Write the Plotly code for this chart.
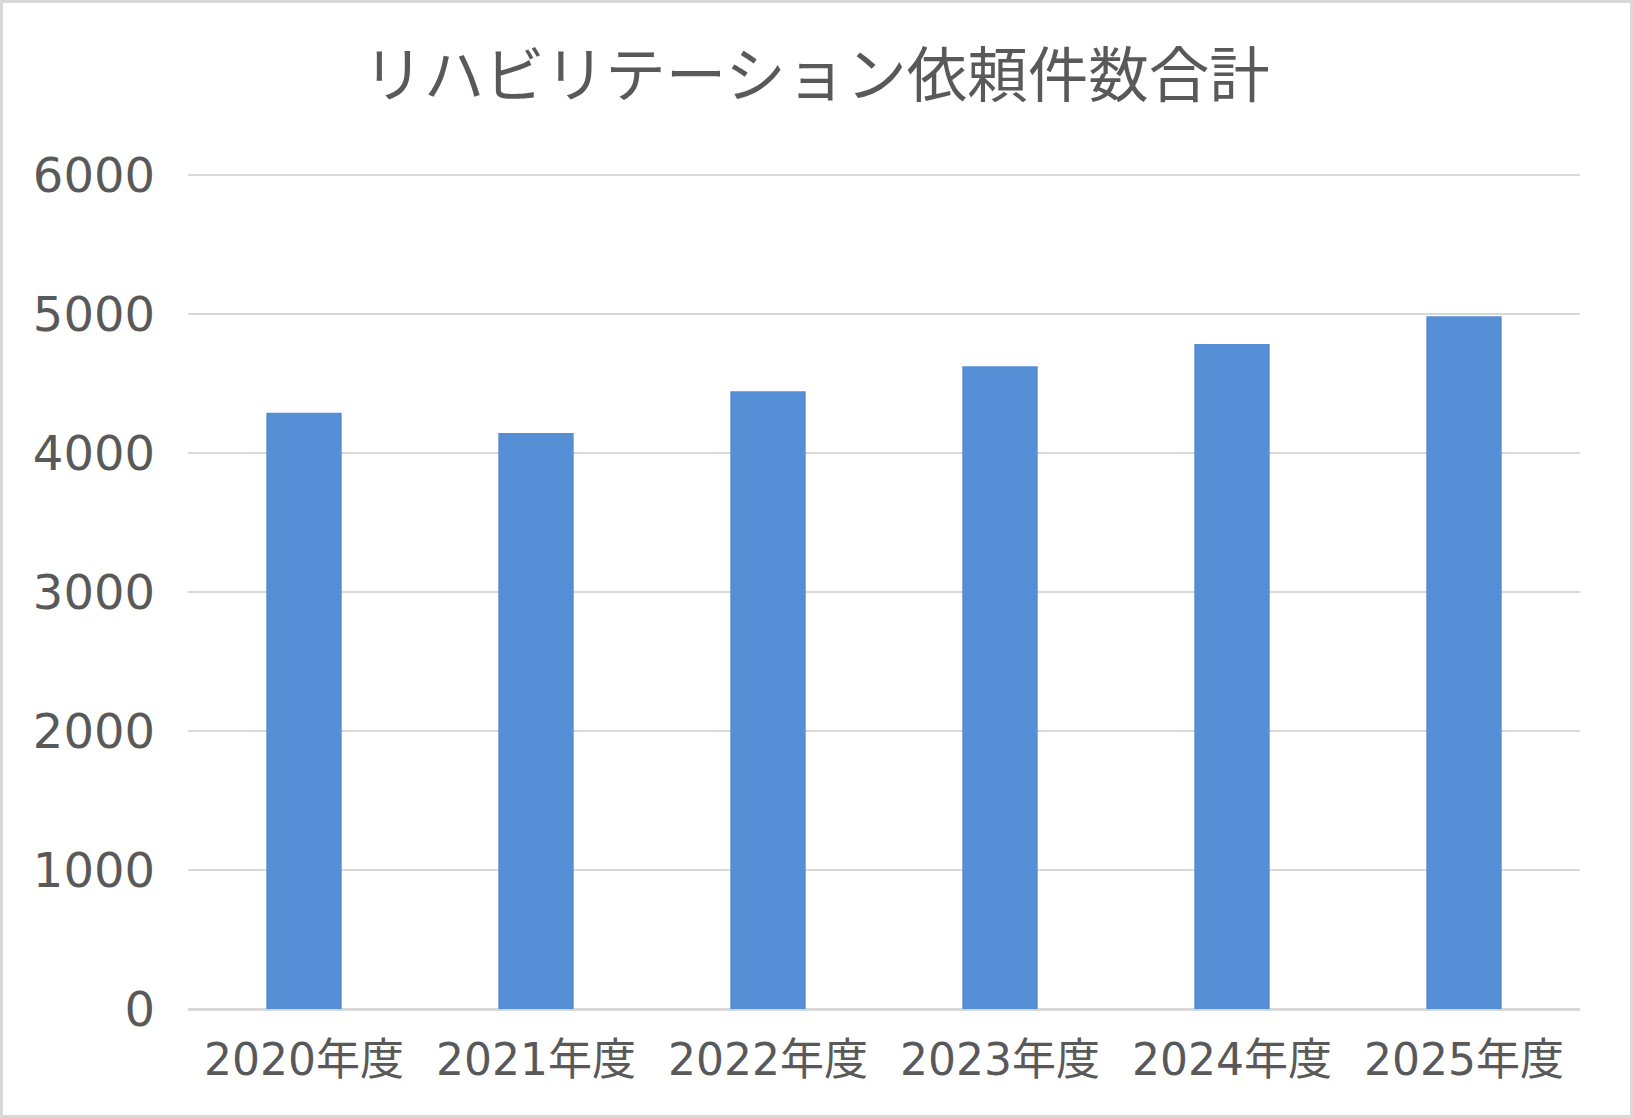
import plotly.graph_objects as go

categories = ["2020年度", "2021年度", "2022年度", "2023年度", "2024年度", "2025年度"]
values = [4290, 4145, 4445, 4625, 4785, 4985]
y_ticks = [0, 1000, 2000, 3000, 4000, 5000, 6000]
title_text = "リハビリテーション依頼件数合計"

W, H = 1633, 1118
ml, mr, mt, mb = 188, 53, 174, 109
pw, ph = W - ml - mr, H - mt - mb

font_family = "DejaVu Sans, Noto Sans CJK JP, sans-serif"
title_family = "Noto Sans CJK JP, sans-serif"
text_color = "#595959"
grid_color = "#d9d9d9"

fig = go.Figure(
    go.Bar(
        x=categories,
        y=values,
        marker=dict(color="#558ed5", line=dict(width=0)),
        width=0.325,
    )
)

fig.update_layout(
    width=W,
    height=H,
    margin=dict(l=ml, r=mr, t=mt, b=mb),
    paper_bgcolor="white",
    plot_bgcolor="white",
    showlegend=False,
    font=dict(family=font_family, color=text_color),
    title=dict(
        text=title_text,
        x=0.5,
        xanchor="center",
        y=1 - 76 / H,
        yanchor="middle",
        font=dict(size=60.5, color=text_color, family=title_family),
    ),
    xaxis=dict(
        showgrid=False,
        showline=False,
        ticks="outside",
        ticklen=12,
        tickcolor="rgba(0,0,0,0)",
        tickfont=dict(size=44, color=text_color, family=font_family),
    ),
    yaxis=dict(
        range=[0, 6008],
        tickvals=y_ticks,
        ticktext=[str(v) for v in y_ticks],
        showgrid=True,
        gridcolor=grid_color,
        gridwidth=2,
        zeroline=True,
        zerolinecolor=grid_color,
        zerolinewidth=3,
        showline=False,
        ticklabelstandoff=32,
        tickfont=dict(size=48, color=text_color, family=font_family),
    ),
    shapes=[
        dict(
            type="rect",
            xref="paper",
            yref="paper",
            x0=(1.5 - ml) / pw,
            x1=(W - 1.5 - ml) / pw,
            y0=(-(mb) + 1.5) / ph,
            y1=(ph + mt - 1.5) / ph,
            line=dict(color=grid_color, width=3),
            fillcolor="rgba(0,0,0,0)",
            layer="above",
        )
    ],
)

fig.write_html("out.html")
